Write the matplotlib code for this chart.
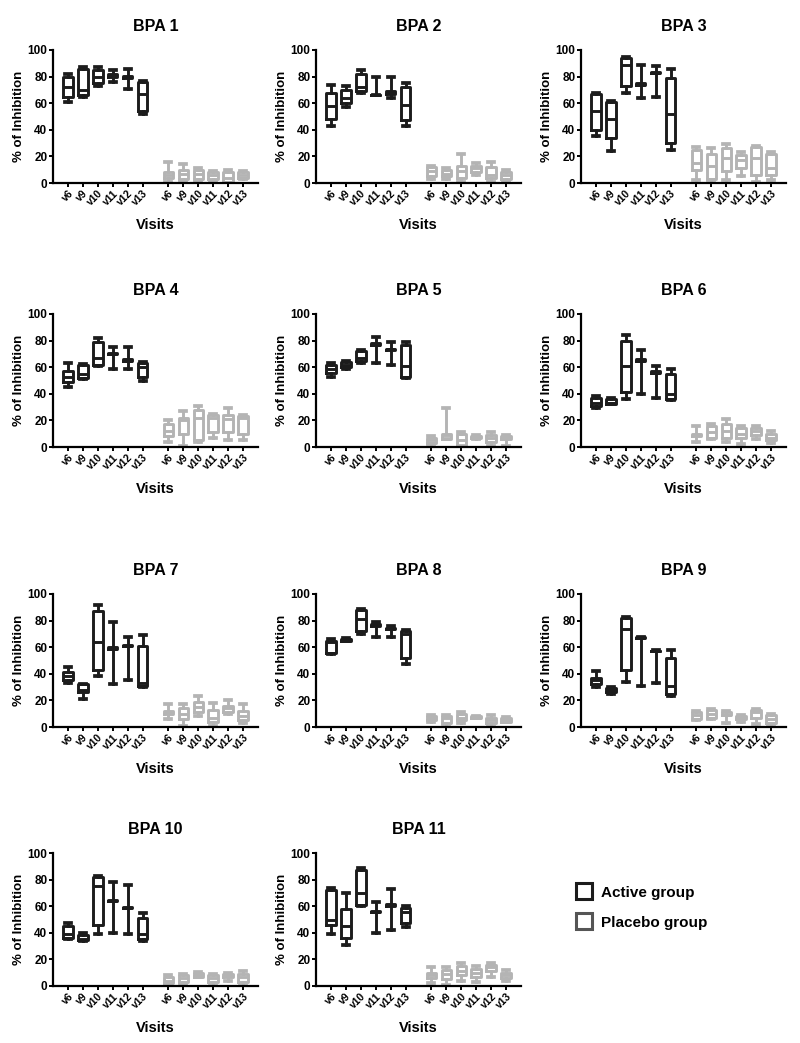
import matplotlib
matplotlib.use("Agg")
import matplotlib.pyplot as plt
from matplotlib.lines import Line2D

plt.rcParams['font.family'] = ['Liberation Sans', 'DejaVu Sans']
plt.rcParams['font.weight'] = 'bold'

visits = ["v6", "v9", "v10", "v11", "v12", "v13"]
titles = ["BPA 1", "BPA 2", "BPA 3", "BPA 4", "BPA 5", "BPA 6",
          "BPA 7", "BPA 8", "BPA 9", "BPA 10", "BPA 11"]
yticks = [0, 20, 40, 60, 80, 100]

# each row: [min, q1, median, q3, max]
bpa1_active = [[61, 65, 72, 80, 82], [65, 66, 70, 86, 87], [73, 75, 80, 85, 87],
               [76, 80, 81, 82, 85], [71, 79, 80, 80.5, 86], [52, 54, 67, 76, 77]]
bpa1_placebo = [[1, 4, 6, 8, 16], [1, 3, 7, 10, 14], [1, 3, 7, 10, 11],
                [1, 3, 6, 8, 9], [0, 1, 4, 8, 10], [3, 4, 6, 8, 9]]
bpa2_active = [[43, 48, 58, 68, 74], [57, 60, 64, 70, 73], [68, 69, 72, 82, 85],
               [66, 66, 66, 66.5, 80], [64, 67, 68, 69, 80], [43, 47, 59, 72, 75]]
bpa2_placebo = [[3, 5, 9, 12, 13], [3, 5, 7, 10, 11], [1, 4, 9, 13, 22],
                [6, 8, 11, 13, 15], [1, 4, 6, 12, 16], [1, 3, 6, 8, 10]]
bpa3_active = [[35, 40, 54, 67, 68], [24, 34, 48, 61, 62], [68, 73, 89, 94, 95],
               [64, 74, 74, 75, 89], [65, 83, 83, 83.5, 88], [25, 30, 52, 79, 86]]
bpa3_placebo = [[2, 10, 15, 25, 27], [2, 3, 13, 22, 26], [2, 9, 19, 26, 29],
                [5, 11, 17, 21, 23], [1, 6, 19, 27, 28], [2, 6, 11, 22, 23]]
bpa4_active = [[45, 49, 53, 57, 63], [51, 52, 55, 62, 62.5], [61, 62, 67, 79, 82],
               [59, 70, 70, 71, 75], [59, 65, 65, 66, 75], [50, 53, 60, 63, 64]]
bpa4_placebo = [[4, 8, 12, 17, 20], [1, 10, 20, 22, 27], [4, 5, 22, 28, 31],
                [7, 11, 22, 24, 25], [5, 11, 21, 24, 29], [5, 10, 22, 23, 24]]
bpa5_active = [[53, 56, 59, 62, 63], [59, 60, 62, 64, 65], [63, 65, 67, 72, 73],
               [63, 77, 77, 78, 83], [62, 73, 74, 74, 79], [52, 53, 61, 77, 79]]
bpa5_placebo = [[2, 3, 5, 7, 8], [6, 6, 9, 10, 29], [1, 1, 5, 10, 11],
                [6, 7, 8, 8.5, 9], [1, 4, 7, 9, 11], [1, 6, 7, 8, 9]]
bpa6_active = [[29, 31, 33, 37, 38], [32, 32, 33, 36, 36.5], [36, 41, 61, 80, 84],
               [40, 65, 65, 66, 73], [37, 56, 56, 57, 61], [35, 36, 40, 55, 59]]
bpa6_placebo = [[4, 8, 9, 10, 16], [6, 7, 11, 16, 17], [4, 7, 12, 17, 21],
                [2, 7, 10, 14, 16], [6, 9, 12, 14, 16], [3, 5, 7, 10, 12]]
bpa7_active = [[33, 35, 38, 41, 45], [21, 26, 28, 32, 32.5], [38, 43, 64, 87, 92],
               [32, 59, 59, 60, 79], [35, 61, 61, 61.5, 68], [30, 31, 33, 61, 69]]
bpa7_placebo = [[6, 10, 11, 12, 17], [1, 6, 10, 14, 17], [8, 11, 15, 19, 23],
                [1, 4, 7, 13, 18], [10, 11, 14, 16, 20], [3, 5, 8, 12, 17]]
bpa8_active = [[55, 56, 64, 65, 66], [64.5, 65, 66, 66.5, 67], [70, 72, 81, 88, 89],
               [68, 76, 77, 77.5, 79], [68, 74, 74, 74.5, 76], [47, 52, 70, 72, 73]]
bpa8_placebo = [[4, 5, 7, 8, 9], [0, 3, 7, 8, 9], [3, 5, 7, 10, 11],
                [7, 7, 7, 8, 8], [0, 3, 5, 7, 9], [4, 4, 6, 7, 7.5]]
bpa9_active = [[30, 32, 35, 37, 42], [25, 26, 28, 29, 30], [34, 43, 74, 82, 82.5],
               [31, 67, 67, 67.5, 68], [33, 57, 57, 57.3, 57.6], [23, 25, 31, 52, 58]]
bpa9_placebo = [[5, 6, 9, 11, 12], [6, 7, 10, 13, 13.5], [3, 9, 9, 11, 12],
                [4, 6, 7, 8, 9], [2, 7, 11, 13, 13.5], [2, 3, 6, 9, 10]]
bpa10_active = [[35, 36, 39, 45, 47], [34, 34.5, 35, 38, 40], [39, 46, 75, 82, 82.5],
                [40, 64, 64, 64.5, 78], [39, 59, 59, 59.5, 76], [34, 35, 39, 51, 55]]
bpa10_placebo = [[1, 2, 4, 7, 8], [1, 3, 6, 8, 9], [7, 7, 9, 10, 10.5],
                 [0, 3, 6, 8, 9], [4, 7, 8, 9, 10], [0, 3, 7, 9, 11]]
bpa11_active = [[39, 46, 50, 72, 74], [31, 36, 45, 58, 70], [60, 61, 70, 87, 89],
                [40, 56, 56, 56.5, 63], [42, 60, 61, 61.5, 73], [44, 47, 56, 59, 60]]
bpa11_placebo = [[2, 6, 8, 10, 14], [1, 5, 9, 12, 14], [4, 8, 11, 15, 17],
                 [3, 7, 10, 13, 15], [7, 11, 14, 16, 17], [4, 6, 8, 10, 12]]

active_sets = [bpa1_active, bpa2_active, bpa3_active, bpa4_active, bpa5_active, bpa6_active,
               bpa7_active, bpa8_active, bpa9_active, bpa10_active, bpa11_active]
placebo_sets = [bpa1_placebo, bpa2_placebo, bpa3_placebo, bpa4_placebo, bpa5_placebo, bpa6_placebo,
                bpa7_placebo, bpa8_placebo, bpa9_placebo, bpa10_placebo, bpa11_placebo]

ACTIVE_COLOR = "#1c1c1c"
PLACEBO_COLOR = "#b4b4b4"

W, H = 800, 1043
fig = plt.figure(figsize=(W / 100, H / 100), dpi=100)

col_left = [53, 316, 581]
row_bottom = [183, 447, 727, 986]
ax_w, ax_h = 205, 133

active_pos = [1, 2, 3, 4, 5, 6]
placebo_pos = [7.7, 8.7, 9.7, 10.7, 11.7, 12.7]


def to_stats(rows):
    return [dict(whislo=r[0], q1=r[1], med=r[2], q3=r[3], whishi=r[4]) for r in rows]


def draw_group(ax, rows, pos, color):
    lw = 2.1
    ax.bxp(to_stats(rows), positions=pos, widths=0.62, showfliers=False,
           capwidths=0.4,
           boxprops=dict(color=color, linewidth=lw),
           whiskerprops=dict(color=color, linewidth=lw),
           capprops=dict(color=color, linewidth=lw + 0.6),
           medianprops=dict(color=color, linewidth=lw))


for i, title in enumerate(titles):
    r, c = divmod(i, 3)
    left = col_left[c] / W
    bottom = 1 - row_bottom[r] / H
    ax = fig.add_axes([left, bottom, ax_w / W, ax_h / H])
    draw_group(ax, active_sets[i], active_pos, ACTIVE_COLOR)
    draw_group(ax, placebo_sets[i], placebo_pos, PLACEBO_COLOR)
    ax.set_xlim(0, 13.7)
    ax.set_ylim(0, 100)
    ax.set_yticks(yticks)
    ax.set_yticklabels([str(t) for t in yticks], fontsize=8.5, fontweight='bold')
    ax.set_xticks(active_pos + placebo_pos)
    ax.set_xticklabels(visits + visits, rotation=45, ha='right', rotation_mode='anchor',
                       fontsize=7.5, fontweight='bold')
    ax.spines['top'].set_visible(False)
    ax.spines['right'].set_visible(False)
    ax.spines['left'].set_linewidth(1.6)
    ax.spines['bottom'].set_linewidth(1.6)
    ax.tick_params(axis='y', length=3, width=1.4, pad=1)
    ax.tick_params(axis='x', length=3, width=1.4, pad=1)
    ax.set_title(title, fontsize=11.5, fontweight='bold', pad=14)
    ax.set_ylabel("% of Inhibition", fontsize=9.5, fontweight='bold', labelpad=2)
    ax.set_xlabel("Visits", fontsize=10.5, fontweight='bold', labelpad=7)

# legend
handles = [Line2D([], [], marker='s', linestyle='none', markersize=11,
                  markerfacecolor='white', markeredgecolor=ACTIVE_COLOR, markeredgewidth=2.2),
           Line2D([], [], marker='s', linestyle='none', markersize=11,
                  markerfacecolor='white', markeredgecolor='#555555', markeredgewidth=2.2)]
fig.legend(handles, ["Active group", "Placebo group"], loc='upper left',
           bbox_to_anchor=(561 / W, 1 - 872 / H), frameon=False,
           prop=dict(size=11, weight='bold'), handletextpad=0.5, labelspacing=1.05,
           handlelength=1.2)

fig.savefig("out.png", dpi=100)
